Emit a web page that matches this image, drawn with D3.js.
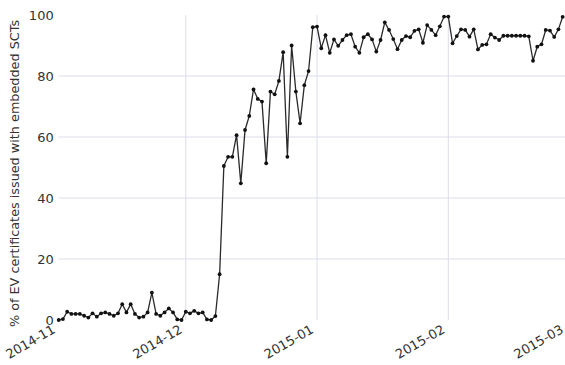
<!DOCTYPE html>
<html>
<head>
<meta charset="utf-8">
<script src="https://cdn.jsdelivr.net/npm/d3@7"></script>
<style>
  html, body { margin: 0; padding: 0; background: #fff; }
  svg { display: block; }
  text { font-family: "DejaVu Sans", sans-serif; fill: #333; }
</style>
</head>
<body>
<svg id="chart" width="565" height="365"></svg>
<script>
// ---- data ----
const startDate = "2014-11-01";           // first daily sample
const endDate = "2015-03-01";             // axis end
const seriesName = "% of EV certificates issued with embedded SCTs";
const values = [
  0, 0.3, 2.7, 2, 2, 2, 1.4, 0.8, 2.2, 1.1,
  2.2, 2.5, 2, 1.4, 2.2, 5.2, 2.5, 5.2, 2, 0.8,
  1.1, 2.5, 9, 2, 1.4, 2.5, 3.8, 2.5, 0.2, 0,
  2.7, 2.2, 3, 2.2, 2.5, 0.2, 0, 1.3, 15, 50.5,
  53.5, 53.5, 60.6, 44.8, 62.3, 66.9, 75.6, 72.5, 71.6, 51.4,
  74.9, 74, 78.4, 87.8, 53.5, 90, 74.9, 64.5, 77, 81.6,
  96, 96.2, 89.1, 93.4, 87.6, 92, 89.9, 91.8, 93.4, 93.7,
  89.6, 87.6, 92.7, 93.7, 92, 88, 91.8, 97.6, 95.1, 92.1,
  88.8, 91.8, 93.1, 92.7, 94.8, 95.3, 90.9, 96.7, 95.1, 93.4,
  96.3, 99.5, 99.5, 90.7, 93.1, 95.3, 95.1, 92.9, 95.3, 88.7,
  90.2, 90.4, 93.7, 92.6, 91.8, 93.2, 93.2, 93.2, 93.2, 93.2,
  93.2, 93, 85, 89.6, 90.4, 95.1, 94.9, 92.8, 95.3, 99.4
];
const xTickLabels = ["2014-11", "2014-12", "2015-01", "2015-02", "2015-03"];
const yTicks = [0, 20, 40, 60, 80, 100];
const yGrid = [20, 40, 60, 80];
const xGridLabels = ["2014-12", "2015-01", "2015-02"];

// ---- build ----
const parse = d3.utcParse("%Y-%m-%d");
const parseMonth = d3.utcParse("%Y-%m");
const t0 = parse(startDate);
const data = values.map((v, i) => ({ date: d3.utcDay.offset(t0, i), value: v }));

const svg = d3.select("#chart");
const x = d3.scaleUtc().domain([parse(startDate), parse(endDate)]).range([58.7, 566.9]);
const y = d3.scaleLinear().domain([0, 100]).range([320, 15]);

// grid
const grid = svg.append("g");
grid.selectAll(".hg").data(yGrid).enter().append("line")
  .attr("x1", x.range()[0]).attr("x2", 565)
  .attr("y1", d => y(d)).attr("y2", d => y(d))
  .attr("stroke", "#dcdcec").attr("stroke-width", 1);
grid.selectAll(".vg").data(xGridLabels).enter().append("line")
  .attr("x1", d => x(parseMonth(d))).attr("x2", d => x(parseMonth(d)))
  .attr("y1", y(100)).attr("y2", y(0))
  .attr("stroke", "#dcdcec").attr("stroke-width", 1);

// y axis (no line, no ticks)
const yAxis = d3.axisLeft(y).tickValues(yTicks).tickSize(0).tickPadding(4);
const yg = svg.append("g").attr("transform", `translate(${x.range()[0] - 1},0)`).call(yAxis);
yg.select(".domain").remove();
yg.selectAll("text").style("font-size", "13px").attr("fill", "#333");

// x axis
const xAxis = d3.axisBottom(x).tickValues(xTickLabels.map(s => parseMonth(s)))
  .tickFormat(d3.utcFormat("%Y-%m")).tickSize(0);
const xg = svg.append("g").attr("transform", `translate(0,${y(0)})`).call(xAxis);
xg.select(".domain").remove();
xg.selectAll("text")
  .style("font-size", "13px").attr("fill", "#333")
  .attr("text-anchor", "end")
  .attr("dy", 0).attr("y", 0)
  .attr("transform", "translate(-3,12) rotate(-30)");

// y title
svg.append("text")
  .attr("transform", `translate(19,${(y(0) + y(100)) / 2 + 6}) rotate(-90)`)
  .attr("text-anchor", "middle")
  .style("font-size", "12.8px")
  .text(seriesName);

// line
const line = d3.line().x(d => x(d.date)).y(d => y(d.value));
svg.append("path").datum(data)
  .attr("d", line).attr("fill", "none")
  .attr("stroke", "#2a2a2a").attr("stroke-width", 1.3);
svg.selectAll(".pt").data(data).enter().append("circle")
  .attr("cx", d => x(d.date)).attr("cy", d => y(d.value))
  .attr("r", 1.9).attr("fill", "#111");
</script>
</body>
</html>
